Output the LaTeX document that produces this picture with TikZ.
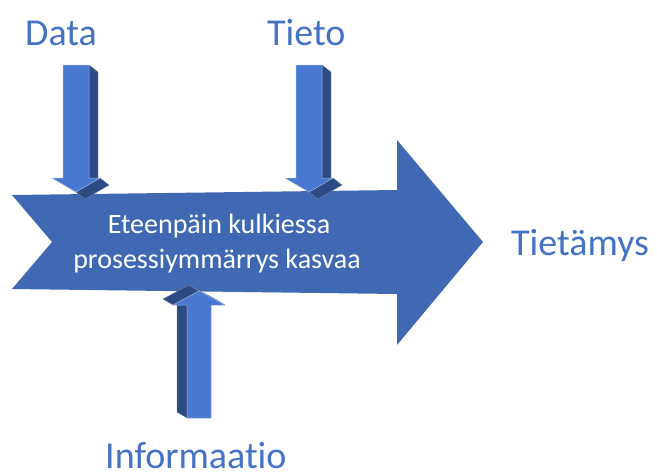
\documentclass[tikz,border=0pt]{standalone}
\usepackage{fontspec}
\setmainfont{Carlito}[Ligatures=NoCommon]
\definecolor{bandblue}{HTML}{3F69B2}
\definecolor{faceblue}{HTML}{4878CF}
\definecolor{sideblue}{HTML}{2C4B82}
\definecolor{labelblue}{HTML}{4472C4}
\tikzset{
  band/.style={fill=bandblue},
  face/.style={fill=faceblue, draw=faceblue!60!white, line width=0.5pt, line join=round},
  side/.style={fill=sideblue, draw=sideblue!70!white, line width=0.4pt, line join=round},
  caption/.style={text=labelblue, font=\fontsize{38}{46}\selectfont, anchor=base west, inner sep=0pt},
  inner/.style={text=white, font=\fontsize{28}{35}\selectfont, anchor=base, inner sep=0pt}
}
% extruded arrow pointing down, local origin at the middle of its top edge
\newcommand\downblock[1]{%
  \begin{scope}[shift={#1}]
    \filldraw[side] (13,0) -- (22,7) -- (22,120) -- (13,113) -- cycle;
    \filldraw[side] (24,113) -- (33,120) -- (9,134) -- (0,127) -- cycle;
    \filldraw[face] (-13,0) -- (13,0) -- (13,113) -- (24,113) -- (0,127)
      -- (-24,113) -- (-13,113) -- cycle;
  \end{scope}}
% extruded arrow pointing up, local origin at the middle of its bottom edge
\newcommand\upblock[1]{%
  \begin{scope}[shift={#1}]
    \filldraw[side] (-12,0) -- (-22,-6) -- (-22,-119) -- (-12,-113) -- cycle;
    \filldraw[side] (-26,-113) -- (-36,-119) -- (-10,-133) -- (0,-127) -- cycle;
    \filldraw[side] (0,-127) -- (-10,-133) -- (16,-119) -- (26,-113) -- cycle;
    \filldraw[face] (-12,0) -- (12,0) -- (12,-113) -- (26,-113) -- (0,-127)
      -- (-26,-113) -- (-12,-113) -- cycle;
  \end{scope}}
\begin{document}
\begin{tikzpicture}[x=1pt,y=-1pt]
  \useasboundingbox (0,0) rectangle (657,475);
  % main process arrow
  \fill[band] (12,195) -- (397,190) -- (397,140) -- (483,242) -- (397,345)
    -- (397,294) -- (12,289) -- (52,242) -- cycle;
  \node[inner] (line1) at (219,233) {Eteenpäin kulkiessa};
  \node[inner] (line2) at (217,268) {prosessiymmärrys kasvaa};
  % inputs
  \downblock{(76,65)}
  \downblock{(309,65)}
  \upblock{(199,418)}
  % labels
  \node[caption] (data) at (25,45) {Data};
  \node[caption] (tieto) at (267,45) {Tieto};
  \node[caption] (tietamys) at (511,255) {Tietämys};
  \node[caption] (informaatio) at (105,468) {Informaatio};
\end{tikzpicture}
\end{document}
